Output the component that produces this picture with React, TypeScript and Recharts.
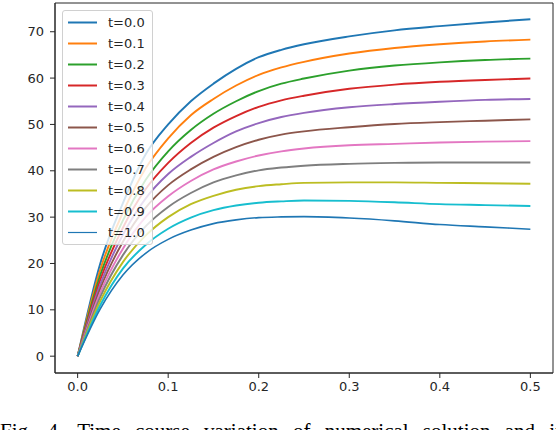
import React from 'react';
import { LineChart, Line, XAxis, YAxis, Legend, ReferenceArea } from 'recharts';

// sample positions along x
const xs = [0, 0.025, 0.05, 0.075, 0.1, 0.125, 0.15, 0.175, 0.2, 0.225, 0.25, 0.3, 0.35, 0.4, 0.45, 0.5];

// one curve per t value
const t00 = [0, 20, 33, 43.5, 50, 55, 58.8, 62, 64.5, 66.1, 67.3, 69, 70.3, 71.2, 72, 72.7];
const t01 = [0, 18.7, 31, 40.5, 47, 52, 55.5, 58.4, 60.7, 62.3, 63.5, 65.3, 66.5, 67.3, 67.9, 68.3];
const t02 = [0, 17.5, 29.3, 38, 44.2, 48.8, 52.3, 55, 57.2, 58.8, 59.9, 61.6, 62.7, 63.4, 63.9, 64.2];
const t03 = [0, 16.5, 27.7, 36, 41.7, 46, 49.3, 51.8, 53.8, 55.2, 56.2, 57.7, 58.6, 59.2, 59.6, 59.9];
const t04 = [0, 15.5, 26.2, 34, 39.3, 43, 46, 48.5, 50.3, 51.6, 52.5, 53.7, 54.4, 54.9, 55.3, 55.5];
const t05 = [0, 14.6, 24.7, 32, 36.9, 40.3, 43, 45.1, 46.7, 47.8, 48.5, 49.4, 50.1, 50.5, 50.8, 51.1];
const t06 = [0, 13.7, 23.2, 30, 34.5, 37.8, 40.3, 42, 43.3, 44.2, 44.8, 45.5, 45.8, 46.1, 46.3, 46.4];
const t07 = [0, 12.8, 21.8, 28, 32.2, 35.2, 37.5, 39, 40.1, 40.7, 41.1, 41.5, 41.7, 41.8, 41.8, 41.8];
const t08 = [0, 11.9, 20.3, 26, 30, 32.8, 34.6, 35.9, 36.7, 37.1, 37.4, 37.5, 37.5, 37.4, 37.3, 37.2];
const t09 = [0, 11, 18.9, 24, 27.5, 29.9, 31.5, 32.5, 33.1, 33.4, 33.6, 33.5, 33.2, 32.8, 32.6, 32.4];
const t10 = [0, 10.2, 17.5, 22.2, 25.2, 27.2, 28.6, 29.4, 29.9, 30.05, 30.1, 29.8, 29.2, 28.4, 27.9, 27.4];

const seriesNames = ['t=0.0', 't=0.1', 't=0.2', 't=0.3', 't=0.4', 't=0.5', 't=0.6', 't=0.7', 't=0.8', 't=0.9', 't=1.0'];
const seriesValues = [t00, t01, t02, t03, t04, t05, t06, t07, t08, t09, t10];

const xTicks = [0, 0.1, 0.2, 0.3, 0.4, 0.5];
const yTicks = [0, 10, 20, 30, 40, 50, 60, 70];

// matplotlib tab10 cycle
const colors = ['#1f77b4', '#ff7f0e', '#2ca02c', '#d62728', '#9467bd', '#8c564b', '#e377c2', '#7f7f7f', '#bcbd22', '#17becf', '#1f77b4'];

const xDomain: [number, number] = [-0.025, 0.525];
const yDomain: [number, number] = [-3.63, 76.2];

const data = xs.map((x, i) => {
  const row: Record<string, number> = { x };
  seriesNames.forEach((name, s) => {
    row[name] = seriesValues[s][i];
  });
  return row;
});

const font = '"DejaVu Sans", sans-serif';
const axisColor = '#262626';

const LegendBox = (props: any) => {
  const { payload = [] } = props;
  return (
    <div
      style={{
        border: '1px solid #d0d0d0',
        borderRadius: 3,
        background: 'rgba(255,255,255,0.8)',
        padding: '1px 0',
        fontFamily: font,
        fontSize: 13,
        color: axisColor,
      }}
    >
      {payload.map((p: any, i: number) => (
        <div key={`leg-${i}`} style={{ display: 'flex', alignItems: 'center', height: 21 }}>
          <svg width={45} height={21} style={{ flex: 'none' }}>
            <line x1={5} x2={34} y1={10.5} y2={10.5} stroke={p.color} strokeWidth={i === 10 ? 1.2 : 2} />
          </svg>
          <span>{p.value}</span>
        </div>
      ))}
    </div>
  );
};

const App: React.FC = () => {
  return (
    <div style={{ position: 'absolute', left: 0, top: 0, width: 556, height: 430, background: '#fff', overflow: 'hidden' }}>
      <LineChart width={556} height={400} data={data} margin={{ top: 3, right: 3, left: 0, bottom: 0 }}>
        <XAxis
          dataKey="x"
          type="number"
          domain={xDomain}
          ticks={xTicks}
          allowDataOverflow
          tickFormatter={(v: number) => v.toFixed(1)}
          height={27}
          tickSize={5}
          tickMargin={4}
          stroke={axisColor}
          tick={{ fill: axisColor, fontFamily: font, fontSize: 13 }}
        />
        <YAxis
          type="number"
          domain={yDomain}
          ticks={yTicks}
          allowDataOverflow
          width={55}
          tickSize={5}
          tickMargin={6}
          stroke={axisColor}
          tick={{ fill: axisColor, fontFamily: font, fontSize: 13 }}
        />
        {/* frame around the plot area, like matplotlib's spines */}
        <ReferenceArea
          x1={xDomain[0]}
          x2={xDomain[1]}
          y1={yDomain[0]}
          y2={yDomain[1]}
          fill="none"
          fillOpacity={0}
          stroke={axisColor}
          strokeWidth={1}
          ifOverflow="visible"
        />
        {seriesNames.map((name, i) => (
          <Line
            key={name}
            dataKey={name}
            name={name}
            type="monotone"
            stroke={colors[i]}
            strokeWidth={i === 10 ? 1.6 : 1.9}
            dot={false}
            isAnimationActive={false}
          />
        ))}
        <Legend
          layout="vertical"
          align="center"
          verticalAlign="middle"
          content={<LegendBox />}
          wrapperStyle={{ left: 62, top: 10, width: 91, height: 'auto' }}
        />
      </LineChart>
      <div
        style={{
          position: 'absolute',
          left: 0,
          top: 419,
          whiteSpace: 'nowrap',
          fontFamily: '"Liberation Serif", serif',
          fontSize: 21,
          wordSpacing: 9,
          color: '#000',
        }}
      >
        Fig. 4. Time course variation of numerical solution and its dynamic limit
      </div>
    </div>
  );
};

export default App;
